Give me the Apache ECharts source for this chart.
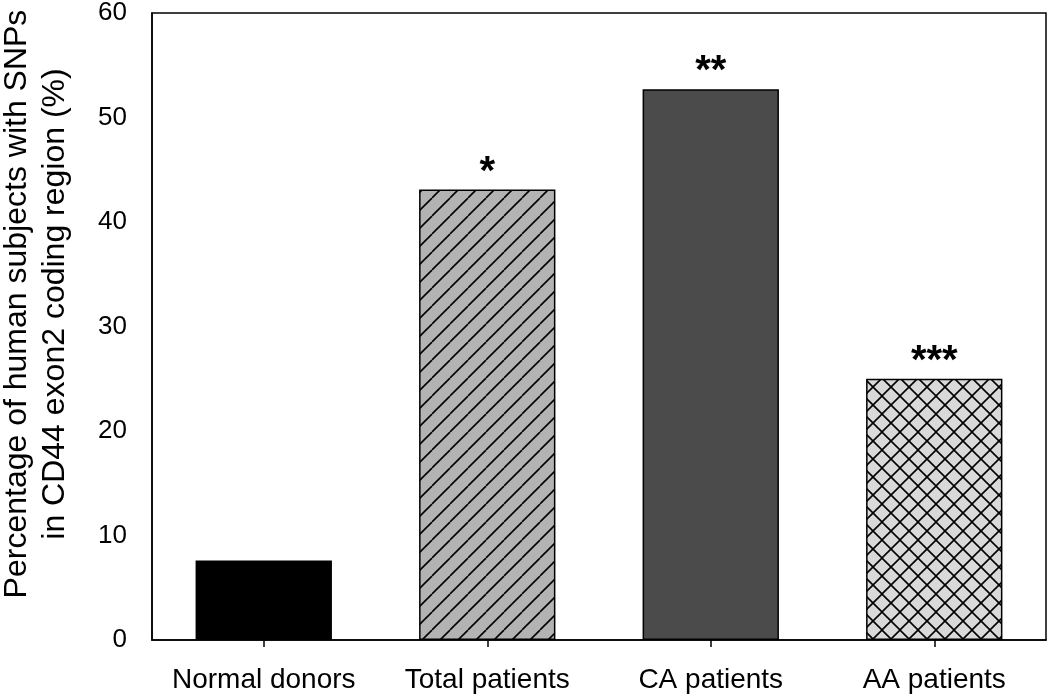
<!DOCTYPE html>
<html>
<head>
<meta charset="utf-8">
<script src="https://cdn.jsdelivr.net/npm/echarts@6/dist/echarts.min.js"></script>
<style>
html,body{margin:0;padding:0;background:#fff;}
#chart{width:1050px;height:698px;}
</style>
</head>
<body>
<div id="chart"></div>
<script>
const categories = ['Normal donors', 'Total patients', 'CA patients', 'AA patients'];
const values = [7.6, 43.1, 52.7, 25.0];
const sigLabels = ['', '*', '**', '***'];
const yTicks = [0, 10, 20, 30, 40, 50, 60];
const yTitleLines = ['Percentage of human subjects with SNPs', 'in CD44 exon2 coding region (%)'];

function makePattern(bg, cross) {
  const s = 18;
  const c = document.createElement('canvas');
  c.width = s; c.height = s;
  const ctx = c.getContext('2d');
  ctx.fillStyle = bg;
  ctx.fillRect(0, 0, s, s);
  ctx.strokeStyle = '#000';
  ctx.lineWidth = 1.6;
  for (let k = -1; k <= 1; k++) {
    ctx.beginPath();
    ctx.moveTo(k * s, s);
    ctx.lineTo(k * s + s, 0);
    ctx.stroke();
    if (cross) {
      ctx.beginPath();
      ctx.moveTo(k * s, 0);
      ctx.lineTo(k * s + s, s);
      ctx.stroke();
    }
  }
  return { image: c, repeat: 'repeat' };
}

const fills = ['#000000', makePattern('#b3b3b3', false), '#4b4b4b', makePattern('#d9d9d9', true)];
const FONT = 'Liberation Sans, Arial, sans-serif';

const chart = echarts.init(document.getElementById('chart'));
chart.setOption({
  animation: false,
  backgroundColor: '#fff',
  grid: { left: 152, right: 4, top: 13, bottom: 58, show: true, borderColor: '#000', borderWidth: 1.5 },
  xAxis: {
    type: 'category',
    data: categories,
    axisLine: { show: true, lineStyle: { color: '#000', width: 1.5 } },
    axisTick: { show: true, alignWithLabel: true, length: 7, lineStyle: { color: '#000', width: 1.5 } },
    axisLabel: { color: '#000', fontFamily: FONT, fontSize: 28, margin: 26, interval: 0 }
  },
  yAxis: {
    type: 'value',
    min: yTicks[0],
    max: yTicks[yTicks.length - 1],
    interval: 10,
    splitLine: { show: false },
    axisLine: { show: true, lineStyle: { color: '#000', width: 1.5 } },
    axisTick: { show: false },
    axisLabel: { color: '#000', fontFamily: FONT, fontSize: 26, margin: 25 }
  },
  graphic: [{
    type: 'text',
    x: 36,
    y: 304,
    rotation: Math.PI / 2,
    style: {
      text: yTitleLines.join('\n'),
      font: '32px "Liberation Sans", Arial, sans-serif',
      fill: '#000',
      align: 'center',
      verticalAlign: 'middle',
      lineHeight: 38
    }
  }],
  series: [{
    type: 'bar',
    barWidth: '61%',
    data: values.map((v, i) => ({
      value: v,
      itemStyle: { color: fills[i], borderColor: '#000', borderWidth: 1.5 },
      label: { show: sigLabels[i] !== '', formatter: sigLabels[i] }
    })),
    label: {
      show: true,
      position: 'top',
      distance: -3,
      color: '#000',
      fontWeight: 'bold',
      fontSize: 40,
      fontFamily: FONT
    }
  }]
});
</script>
</body>
</html>
